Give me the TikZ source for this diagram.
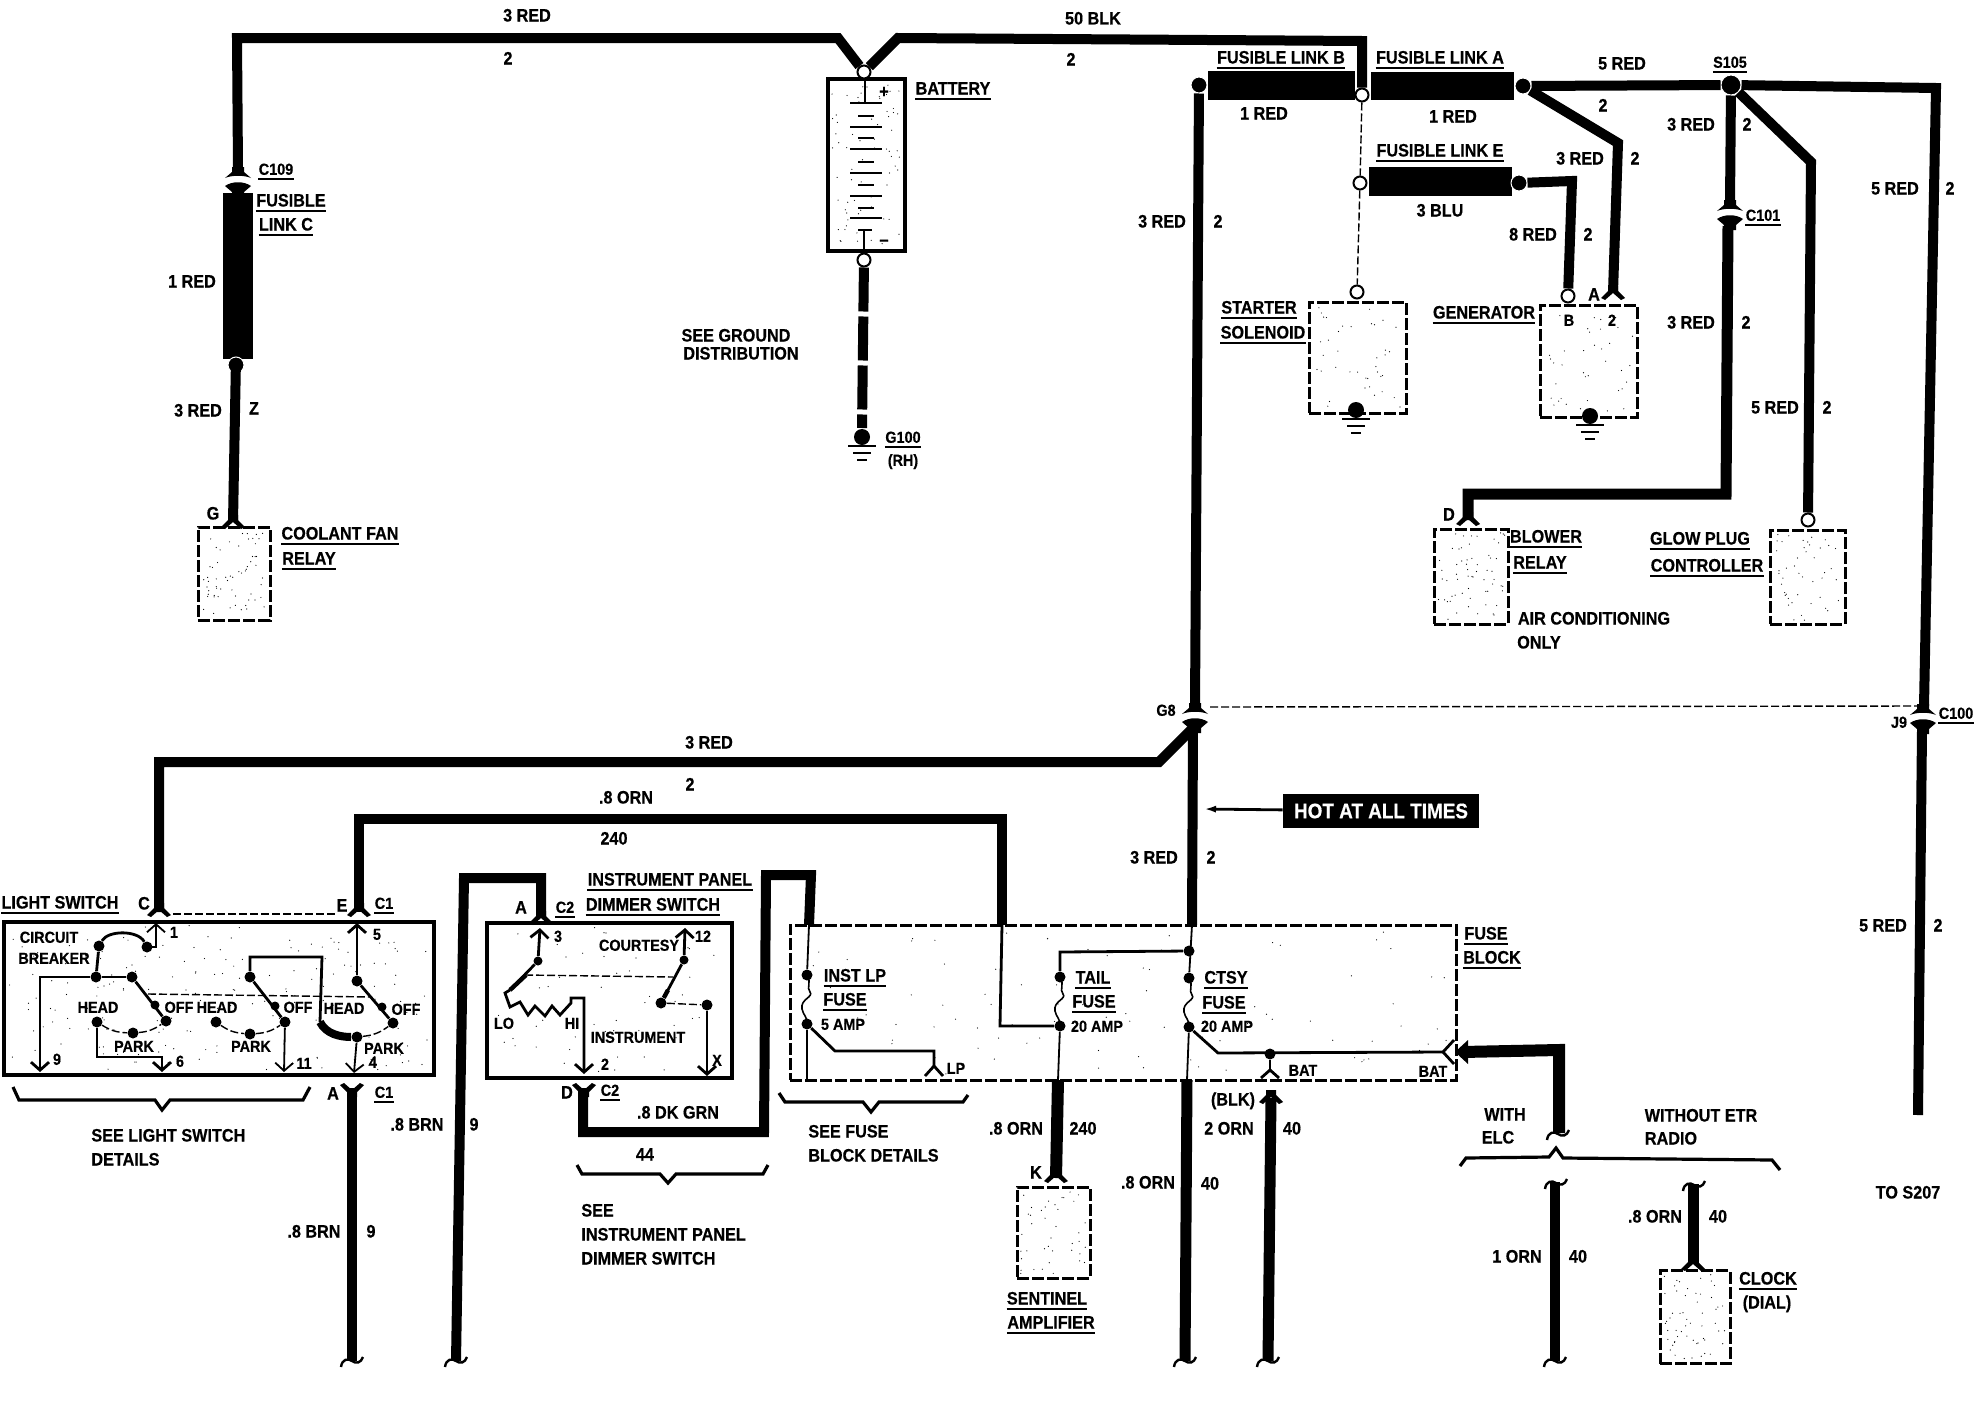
\documentclass[tikz,border=0pt]{standalone}
\usepackage{fontspec}
\setmainfont[FakeStretch=0.9,BoldFeatures={FakeBold=0.5}]{Liberation Sans}
\usetikzlibrary{arrows.meta}

\tikzset{
  fork/.pic={\fill (-5,-7) -- (-5,-2) -- (-12,5) -- (-8,7) -- (0,0) -- (8,7) -- (12,5) -- (5,-2) -- (5,-7) -- cycle;},
  jack/.pic={\fill (-6,-14) -- (-6,-9) -- (-13,-3) .. controls (-6,-6) and (6,-6) .. (13,-3) -- (6,-9) -- (6,-14) -- cycle;
             \fill (-13,5) .. controls (-6,0) and (6,0) .. (13,5) -- (6,11) -- (6,16) -- (-6,16) -- (-6,11) -- cycle;},
  cutend/.pic={\draw[line width=1.2pt] (-11,6) .. controls (-10,-2) and (-4,-3) .. (0,0) .. controls (4,3) and (9,2) .. (11,-4);},
  earth/.pic={\fill (0,0) circle (4pt);
              \draw[line width=1pt] (-14,9) -- (14,9) (-9,16) -- (9,16) (-5,23) -- (5,23);},
  fuse/.pic={\draw[line width=.8pt] (0,0) .. controls (5,8) and (-1,12) .. (3,17) .. controls (7,22) and (-7,24) .. (-5,34) .. controls (-4,40) and (1,42) .. (0,50);},
}
\newcommand{\speckle}[5]{\foreach \k in {1,...,#5}{
  \pgfmathsetmacro{\sx}{#1+(rnd-.5)*#3}
  \pgfmathsetmacro{\sy}{#2+(rnd-.5)*#4}
  \fill (\sx,\sy) circle (.3pt);}}

\begin{document}
\begin{tikzpicture}[x=0.5pt, y=-0.5pt, >={Straight Barb[length=4pt,width=9pt]}]
\tikzstyle{wire} = [line width=5pt]
\tikzstyle{thinw} = [line width=.9pt]
\tikzstyle{medw} = [line width=1.4pt]
\tikzstyle{link} = [rectangle, fill=black, inner sep=0pt]
\tikzstyle{term} = [circle, draw, fill=white, line width=1pt, inner sep=0pt, minimum size=6.5pt]
\tikzstyle{splice} = [circle, fill=black, draw=white, line width=.5pt, inner sep=0pt, minimum size=8pt]
\tikzstyle{dot} = [circle, fill=black, inner sep=0pt, minimum size=5.5pt]
\tikzstyle{dashbox} = [rectangle, draw, line width=1.5pt, dash pattern=on 6pt off 1.5pt, inner sep=0pt]
\tikzstyle{solidbox} = [rectangle, draw, line width=1.9pt, inner sep=0pt]
\tikzstyle{lbl} = [inner xsep=0pt, inner ysep=2pt, font=\fontsize{9}{10}\selectfont\bfseries, text height=6.5pt, text depth=0pt]
\tikzstyle{slbl} = [lbl, font=\fontsize{8}{9}\selectfont\bfseries, text height=5.8pt]
\tikzstyle{ul} = [lbl, append after command={(\tikzlastnode.south west) edge[thinw] (\tikzlastnode.south east)}]
\tikzstyle{sul} = [slbl, append after command={(\tikzlastnode.south west) edge[thinw] (\tikzlastnode.south east)}]
\tikzstyle{linkdash} = [line width=.7pt, dash pattern=on 4pt off 1.5pt]

\useasboundingbox (0,0) rectangle (1976,1408);

% stipple inside the boxes
\pgfmathsetseed{1976}
\speckle{866}{165}{70}{160}{70}
\speckle{234}{573}{65}{85}{60}
\speckle{1357}{357}{90}{100}{40}
\speckle{1588}{361}{90}{105}{40}
\speckle{1471}{576}{68}{88}{60}
\speckle{1807}{577}{68}{88}{45}
\speckle{1053}{1232}{65}{85}{40}
\speckle{1695}{1316}{62}{85}{55}
\speckle{219}{998}{420}{145}{190}
\speckle{610}{1000}{235}{145}{50}
\speckle{1123}{1002}{650}{145}{90}

% boxes
\node[solidbox, minimum width=38.5pt, minimum height=86pt] (battery) at (866.5,165) {};
\node[dashbox, minimum width=36pt, minimum height=46.5pt] (fanrelay) at (234,573.5) {};
\node[dashbox, minimum width=48.5pt, minimum height=55.5pt] (solenoid) at (1357.5,357.5) {};
\node[dashbox, minimum width=48.5pt, minimum height=56pt] (generator) at (1588.5,361) {};
\node[dashbox, minimum width=37pt, minimum height=47.5pt] (blower) at (1471,576.5) {};
\node[dashbox, minimum width=37.5pt, minimum height=47pt] (glowplug) at (1807.5,577) {};
\node[dashbox, minimum width=36.5pt, minimum height=45.5pt] (sentinel) at (1053.5,1232.5) {};
\node[dashbox, minimum width=35pt, minimum height=46.5pt] (clock) at (1695,1317) {};
\node[solidbox, minimum width=215pt, minimum height=76.5pt] (lightsw) at (219,998.5) {};
\node[solidbox, minimum width=122.5pt, minimum height=77.5pt] (dimmer) at (609.5,1000.5) {};
\node[dashbox, minimum width=333pt, minimum height=77.5pt] (fuseblock) at (1123,1002.5) {};

% fusible links
\node[link, minimum width=15pt, minimum height=83pt] (linkc) at (237.5,276) {};
\node[link, minimum width=73.5pt, minimum height=14.5pt] (linkb) at (1281.5,85.5) {};
\node[link, minimum width=71.5pt, minimum height=14pt] (linka) at (1442.5,86) {};
\node[link, minimum width=71.5pt, minimum height=14.5pt] (linke) at (1440.5,181.5) {};

% terminals and splices
\node[term] (batpos) at (864,72) {};
\node[term] (batneg) at (864,260) {};
\node[term] (linkmid) at (1362,95) {};
\node[term] (linketerm) at (1360,183) {};
\node[term] (solterm) at (1357,292) {};
\node[term] (genB) at (1568,296) {};
\node[term] (glowterm) at (1808,520) {};
\node[splice] (linkcdot) at (236,365) {};
\node[splice] (linkbdot) at (1199,85) {};
\node[splice] (linkadot) at (1523,86) {};
\node[splice] (linkedot) at (1519,183) {};
\node[splice, minimum size=10pt] (s105) at (1731,85) {};

\coordinate (c109up) at (238,170);
\coordinate (c109low) at (238,192);
\coordinate (fanG) at (233,522);
\coordinate (g100) at (862,428);
\coordinate (genA) at (1613,292);
\coordinate (c101up) at (1730,204);
\coordinate (c101low) at (1728,226);
\coordinate (blowerD) at (1468,520);
\coordinate (g8up) at (1195,705);
\coordinate (g8low) at (1193,728);
\coordinate (c100up) at (1924,706);
\coordinate (c100low) at (1922,730);
\coordinate (tos207) at (1918,1115);
\coordinate (lsC) at (159,912);
\coordinate (lsE) at (359,912);
\coordinate (lsA) at (352,1088);
\coordinate (lsend) at (352,1361);
\coordinate (dimA) at (541,918);
\coordinate (dimend) at (456,1361);
\coordinate (dimD) at (583,1088);
\coordinate (fbinst) at (809,925);
\coordinate (fbtail) at (1002,925);
\coordinate (fbmain) at (1192,925);
\coordinate (fbkwire) at (1058,1080);
\coordinate (fbctsy) at (1187,1080);
\coordinate (fbbat) at (1462,1052);
\coordinate (sentK) at (1056,1178);
\coordinate (ctsyend) at (1185,1361);
\coordinate (blktop) at (1271,1098);
\coordinate (blkend) at (1268,1361);
\coordinate (elcup) at (1559,1133);
\coordinate (elclow) at (1555,1182);
\coordinate (elcend) at (1555,1361);
\coordinate (clocktop) at (1693,1184);
\coordinate (clocklow) at (1693,1263);

% battery cells
\draw[thinw] (865,79) -- (865,103) (850,103) -- (882,103) (858,116) -- (874,116)
  (850,127) -- (882,127) (858,138) -- (874,138) (850,149) -- (882,149) (858,162) -- (874,162)
  (850,173) -- (882,173) (858,185) -- (874,185) (850,196) -- (882,196) (858,208) -- (874,208)
  (850,218) -- (882,218) (858,230) -- (872,230) (864,230) -- (864,251);
\node[lbl] (batplus) at (884,91) {+};
\node[lbl] (batminus) at (884,239) {--};

% main wires
\draw[wire] (c109up) -- (237,38) -- (838,38) -- (batpos);
\draw[wire] (batpos) -- (898,38) -- (1362,41) -- (linkmid);
\draw[wire] (linkc) -- (fanG);
\draw[wire] (c109low) -- (linkc);
\draw[wire, dash pattern=on 22pt off 2.5pt] (batneg) -- (g100);
\draw[wire] (linkbdot) -- (g8up);
\draw[wire] (linkadot) -- (s105);
\draw[wire] (linkadot) -- (1618,143) -- (genA);
\draw[wire] (linkedot) -- (1572,181) -- (genB);
\draw[wire] (s105) -- (1936,88) -- (c100up);
\draw[wire] (s105) -- (c101up);
\draw[wire] (s105) -- (1811,162) -- (glowterm);
\draw[wire, line width=5.5pt] (c101low) -- (1726,494) -- (1468,494) -- (blowerD);
\draw[wire] (c100low) -- (tos207);
\draw[wire] (g8low) -- (fbmain);
\draw[wire] (g8low) -- (1159,762) -- (159,762) -- (lsC);
\draw[wire] (fbtail) -- (1002,819) -- (359,819) -- (lsE);
\draw[wire] (lsA) -- (lsend);
\draw[wire] (dimend) -- (464,878) -- (541,878) -- (dimA);
\draw[wire] (dimD) -- (583,1132) -- (764,1132) -- (766,875) -- (811,875) -- (fbinst);
\draw[wire, line width=6pt] (fbkwire) -- (sentK);
\draw[wire, line width=5.5pt] (fbctsy) -- (ctsyend);
\draw[wire, line width=5.5pt] (blktop) -- (blkend);
\draw[wire, line width=6pt] (fbbat) -- (1559,1050) -- (elcup);
\draw[wire] (elclow) -- (elcend);
\draw[wire, line width=5.5pt] (clocktop) -- (clocklow);
\draw[linkdash] (linkmid) -- (linketerm);
\draw[linkdash] (linketerm) -- (solterm);
\draw[linkdash] (g8up) ++(15,2) -- (c100up);
\draw[linkdash] (173,914) -- (337,914);

% connectors
\pic at (238,181) {jack};
\pic at (1730,214) {jack};
\pic at (1195,717) {jack};
\pic at (1923,718) {jack};
\pic at (233,522) {fork};
\pic at (1613,293) {fork};
\pic at (1468,519) {fork};
\pic at (159,910) {fork};
\pic at (359,910) {fork};
\pic[yscale=-1] at (352,1090) {fork};
\pic at (541,918) {fork};
\pic[yscale=-1] at (584,1090) {fork};
\pic at (1056,1176) {fork};
\pic at (1693,1264) {fork};
\pic at (1271,1097) {fork};
\pic at (352,1361) {cutend};
\pic at (456,1361) {cutend};
\pic at (1185,1361) {cutend};
\pic at (1268,1361) {cutend};
\pic at (1555,1361) {cutend};
\pic at (1558,1134) {cutend};
\pic at (1556,1183) {cutend};
\pic at (1694,1185) {cutend};
\draw[medw] (1454,1040) -- (1443,1052) -- (1454,1064);
\fill (1468,1040) -- (1455,1052) -- (1468,1064) -- cycle;

% grounds
\pic at (862,437) {earth};
\pic at (1356,410) {earth};
\pic at (1590,416) {earth};

% light switch
\node[dot] (lscb1) at (99,946) {};
\node[dot] (lscb2) at (147,947) {};
\node[dot] (lsfeed) at (96,977) {};
\node[dot] (lsblade1) at (132,977) {};
\node[dot, minimum size=4.5pt] (lsmid1) at (155,1005) {};
\node[dot] (lsoff1) at (166,1021) {};
\node[dot] (lshead1) at (97,1022) {};
\node[dot] (lspark1) at (133,1033) {};
\node[dot] (lsblade2) at (250,977) {};
\node[dot, minimum size=4.5pt] (lsmid2) at (275,1006) {};
\node[dot] (lsoff2) at (285,1022) {};
\node[dot] (lshead2) at (216,1022) {};
\node[dot] (lspark2) at (250,1034) {};
\node[dot] (lsblade3) at (357,981) {};
\node[dot, minimum size=4.5pt] (lsmid3) at (382,1007) {};
\node[dot] (lsoff3) at (393,1023) {};
\node[dot] (lspark3) at (357,1037) {};
\coordinate (lspin1) at (156,923);
\coordinate (lspin5) at (357,923);
\coordinate (lspin9) at (40,1072);
\coordinate (lspin6) at (162,1072);
\coordinate (lspin11) at (284,1072);
\coordinate (lspin4) at (354,1073);
\draw[thinw, ->] (lscb2.center) -- (156,947) -- (lspin1);
\draw[medw] (lscb1) .. controls (108,930) and (138,930) .. (lscb2);
\draw[medw] (lscb1) -- (lsfeed);
\draw[medw, ->] (lsblade1) -- (lsfeed) -- (40,977) -- (lspin9);
\draw[medw] (lsblade1) -- (lsoff1);
\draw[medw] (lsblade2) -- (lsoff2);
\draw[medw] (lsblade3) -- (lsoff3);
\draw[medw, ->] (lshead1) -- (97,1057) -- (162,1057) -- (lspin6);
\draw[medw] (lsblade2) -- (250,957) -- (322,957) -- (320,1022);
\draw[line width=4pt] (320,1022) .. controls (326,1034) and (340,1037) .. (lspark3);
\draw[thinw, ->] (lsoff2) -- (lspin11);
\draw[thinw, ->] (lspark3) -- (lspin4);
\draw[medw, <-] (lspin5) -- (lsblade3);
\draw[linkdash] (lshead1) to[bend right=15] (lspark1);
\draw[linkdash] (lspark1) to[bend right=15] (lsoff1);
\draw[linkdash] (lshead2) to[bend right=15] (lspark2);
\draw[linkdash] (lspark2) to[bend right=15] (lsoff2);
\draw[linkdash] (lspark3) to[bend right=15] (lsoff3);
\draw[linkdash] (148,994) -- (372,997);

% dimmer switch
\node[dot, minimum size=4.5pt] (dimhi) at (538,961) {};
\node[dot, minimum size=4.5pt] (dimcy) at (684,960) {};
\node[dot] (dimoff) at (661,1003) {};
\node[dot] (dimx) at (707,1005) {};
\coordinate (dimpin3) at (540,928);
\coordinate (dimpin12) at (685,928);
\coordinate (dimpin2) at (584,1074);
\coordinate (dimpinx) at (707,1076);
\draw[medw, ->] (dimhi) -- (dimpin3);
\draw[medw, ->] (dimcy) -- (dimpin12);
\draw[medw] (dimhi) -- (510,990);
\draw[line width=2.2pt] (526,975) -- (510,990);
\draw[medw] (dimcy) -- (dimoff);
\draw[line width=2.2pt] (668,990) -- (dimoff);
\draw[medw, ->] (510,990) -- (505,993) -- (510,1007) -- (520,1002) -- (528,1015) -- (535,1006) -- (545,1016) -- (552,1006) -- (560,1015) -- (571,1003) -- (571,998) -- (584,998) -- (dimpin2);
\draw[medw, ->] (dimx) -- (dimpinx);
\draw[linkdash] (dimoff) -- (dimx);
\draw[linkdash] (525,975) -- (673,977);

% fuse block
\node[dot] (instup) at (807,975) {};
\node[dot] (instlow) at (807,1024) {};
\node[dot] (tailup) at (1060,977) {};
\node[dot] (taillow) at (1060,1026) {};
\node[dot] (ctsyup) at (1189,978) {};
\node[dot] (ctsylow) at (1189,1027) {};
\node[dot] (fbtap) at (1189,951) {};
\node[dot] (batdot) at (1270,1054) {};
\coordinate (lpin) at (934,1066);
\coordinate (batpin) at (1270,1070);
\draw[thinw] (fbinst) -- (instup);
\draw[thinw] (instlow) -- (807,1080);
\draw[medw] (instlow) -- (835,1051) -- (934,1051) -- (lpin);
\draw[medw] (925,1076) -- (lpin) -- (943,1076);
\draw[medw] (fbtail) -- (1000,1026) -- (taillow);
\draw[thinw] (taillow) -- (fbkwire);
\draw[medw] (tailup) -- (1060,952) -- (fbtap);
\draw[thinw] (fbmain) -- (ctsyup);
\draw[thinw] (ctsylow) -- (fbctsy);
\draw[medw] (ctsylow) -- (1218,1053) -- (1443,1052);
\draw[thinw] (batdot) -- (batpin);
\draw[medw] (1261,1078) -- (batpin) -- (1279,1078);
\pic at (807,975) {fuse};
\pic at (1060,977) {fuse};
\pic at (1189,978) {fuse};

% braces
\draw[line width=1.6pt] (13,1087) -- (19,1100) -- (155,1100) -- (162,1110) -- (170,1100) -- (303,1100) -- (310,1087);
\draw[line width=1.6pt] (577,1165) -- (582,1174) -- (660,1174) -- (668,1183) -- (676,1174) -- (763,1174) -- (768,1165);
\draw[line width=1.6pt] (779,1093) -- (785,1102) -- (863,1102) -- (871,1112) -- (879,1102) -- (963,1102) -- (968,1095);
\draw[line width=1.6pt] (1460,1166) -- (1466,1158) -- (1549,1157) -- (1556,1148) -- (1563,1158) -- (1772,1160) -- (1780,1170);

% hot at all times
\node[rectangle, fill=black, text=white, minimum width=98pt, minimum height=17pt, inner sep=0pt, font=\fontsize{10.5}{12}\selectfont\bfseries] (hot) at (1381,811) {HOT AT ALL TIMES};
\coordinate (hottip) at (1204,809);
\draw[medw, -{Latex[length=6pt,width=3.5pt]}] (hot) -- (hottip);

% wire labels
\node[lbl] (t3redtop) at (527,15) {3 RED};
\node[lbl] (t2top) at (508,58) {2};
\node[lbl] (t50blk) at (1093,18) {50 BLK};
\node[lbl] (t2blk) at (1071,59) {2};
\node[lbl] (t1redc) at (192,281) {1 RED};
\node[lbl] (t3redc) at (198,410) {3 RED};
\node[lbl] (tzc) at (254,408) {Z};
\node[lbl] (t1redb) at (1264,113) {1 RED};
\node[lbl] (t1reda) at (1453,116) {1 RED};
\node[lbl] (t3blu) at (1440,210) {3 BLU};
\node[lbl] (t5red) at (1622,63) {5 RED};
\node[lbl] (t2five) at (1603,105) {2};
\node[lbl] (t3redg) at (1580,158) {3 RED};
\node[lbl] (t2g) at (1635,158) {2};
\node[lbl] (t8red) at (1533,234) {8 RED};
\node[lbl] (t28) at (1588,234) {2};
\node[lbl] (t3reds) at (1691,124) {3 RED};
\node[lbl] (t2s) at (1747,124) {2};
\node[lbl] (t3redb) at (1691,322) {3 RED};
\node[lbl] (t2b) at (1746,322) {2};
\node[lbl] (t5redg) at (1775,407) {5 RED};
\node[lbl] (t2gl) at (1827,407) {2};
\node[lbl] (t5redr) at (1895,188) {5 RED};
\node[lbl] (t2r) at (1950,188) {2};
\node[lbl] (t3redl) at (1162,221) {3 RED};
\node[lbl] (t2l) at (1218,221) {2};
\node[lbl] (t3redm) at (709,742) {3 RED};
\node[lbl] (t2m) at (690,784) {2};
\node[lbl] (t8orn) at (626,797) {.8 ORN};
\node[lbl] (t240) at (614,838) {240};
\node[lbl] (t3redf) at (1154,857) {3 RED};
\node[lbl] (t2f) at (1211,857) {2};
\node[lbl] (t5redj) at (1883,925) {5 RED};
\node[lbl] (t2j) at (1938,925) {2};
\node[lbl] (tbrn) at (417,1124) {.8 BRN};
\node[lbl] (t9) at (474,1124) {9};
\node[lbl] (tbrnb) at (314,1231) {.8 BRN};
\node[lbl] (t9b) at (371,1231) {9};
\node[lbl] (tdkgrn) at (678,1112) {.8 DK GRN};
\node[lbl] (t44) at (645,1154) {44};
\node[lbl] (torns) at (1016,1128) {.8 ORN};
\node[lbl] (t240s) at (1083,1128) {240};
\node[lbl] (tornc) at (1148,1182) {.8 ORN};
\node[lbl] (t40c) at (1210,1183) {40};
\node[lbl] (tblk) at (1233,1099) {(BLK)};
\node[lbl] (t2orn) at (1229,1128) {2 ORN};
\node[lbl] (t40b) at (1292,1128) {40};
\node[lbl] (t1orn) at (1517,1256) {1 ORN};
\node[lbl] (t40e) at (1578,1256) {40};
\node[lbl] (tornd) at (1655,1216) {.8 ORN};
\node[lbl] (t40d) at (1718,1216) {40};

% component labels
\node[sul] (c109) at (276,169) {C109};
\node[ul] (fusc) at (291,200) {FUSIBLE};
\node[ul] (linkctxt) at (286,224) {LINK C};
\node[lbl] (pinG) at (213,513) {G};
\node[ul] (fantxt) at (340,533) {COOLANT FAN};
\node[ul] (relaytxt) at (309,558) {RELAY};
\node[ul] (battxt) at (953,88) {BATTERY};
\node[lbl] (seeg) at (736,335) {SEE GROUND};
\node[lbl] (dist) at (741,353) {DISTRIBUTION};
\node[sul] (g100txt) at (903,437) {G100};
\node[slbl] (rhtxt) at (903,460) {(RH)};
\node[ul] (fusbtxt) at (1281,57) {FUSIBLE LINK B};
\node[ul] (fusatxt) at (1440,57) {FUSIBLE LINK A};
\node[ul] (fusetxt) at (1440,150) {FUSIBLE LINK E};
\node[ul] (startxt) at (1259,307) {STARTER};
\node[ul] (soltxt) at (1263,332) {SOLENOID};
\node[ul] (gentxt) at (1484,312) {GENERATOR};
\node[slbl] (genBtxt) at (1569,320) {B};
\node[slbl] (gen2txt) at (1612,320) {2};
\node[lbl] (genAtxt) at (1594,294) {A};
\node[sul] (s105txt) at (1730,62) {S105};
\node[sul] (c101txt) at (1763,215) {C101};
\node[lbl] (pinD) at (1449,514) {D};
\node[ul] (blowtxt) at (1546,536) {BLOWER};
\node[ul] (blrelay) at (1540,562) {RELAY};
\node[lbl] (actxt) at (1594,618) {AIR CONDITIONING};
\node[lbl] (onlytxt) at (1539,642) {ONLY};
\node[ul] (glowtxt) at (1700,538) {GLOW PLUG};
\node[ul] (ctltxt) at (1707,565) {CONTROLLER};
\node[slbl] (g8txt) at (1166,710) {G8};
\node[slbl] (j9txt) at (1899,722) {J9};
\node[sul] (c100txt) at (1956,713) {C100};
\node[ul] (lstxt) at (60,902) {LIGHT SWITCH};
\node[lbl] (pinC) at (144,903) {C};
\node[lbl] (pinE) at (342,905) {E};
\node[sul] (c1a) at (384,903) {C1};
\node[lbl] (pinA) at (333,1093) {A};
\node[sul] (c1b) at (384,1092) {C1};
\node[slbl] (n1) at (174,932) {1};
\node[slbl] (n5) at (377,934) {5};
\node[slbl] (n9) at (57,1059) {9};
\node[slbl] (n6) at (180,1061) {6};
\node[slbl] (n11) at (304,1063) {11};
\node[slbl] (n4) at (373,1062) {4};
\node[slbl] (cirtxt) at (49,937) {CIRCUIT};
\node[slbl] (brktxt) at (54,958) {BREAKER};
\node[slbl] (head1) at (98,1007) {HEAD};
\node[slbl] (off1) at (179,1007) {OFF};
\node[slbl] (head2) at (217,1007) {HEAD};
\node[slbl] (off2) at (298,1007) {OFF};
\node[slbl] (head3) at (344,1008) {HEAD};
\node[slbl] (off3) at (406,1009) {OFF};
\node[slbl] (park1) at (134,1046) {PARK};
\node[slbl] (park2) at (251,1046) {PARK};
\node[slbl] (park3) at (384,1048) {PARK};
\node[lbl, anchor=west] (seels) at (91,1135) {SEE LIGHT SWITCH};
\node[lbl, anchor=west] (lsdet) at (91,1159) {DETAILS};
\node[ul] (iptxt) at (670,879) {INSTRUMENT PANEL};
\node[ul] (dimtxt) at (653,904) {DIMMER SWITCH};
\node[lbl] (pinAd) at (521,907) {A};
\node[sul] (c2a) at (565,907) {C2};
\node[lbl] (pinDd) at (567,1092) {D};
\node[sul] (c2b) at (610,1090) {C2};
\node[slbl] (n3) at (558,936) {3};
\node[slbl] (n12) at (703,936) {12};
\node[slbl] (n2) at (605,1064) {2};
\node[slbl] (nx) at (717,1060) {X};
\node[slbl] (courtxt) at (639,945) {COURTESY};
\node[slbl] (lotxt) at (504,1023) {LO};
\node[slbl] (hitxt) at (572,1023) {HI};
\node[slbl] (insttxt) at (638,1037) {INSTRUMENT};
\node[lbl, anchor=west] (seeip) at (581,1210) {SEE};
\node[lbl, anchor=west] (ipdet) at (581,1234) {INSTRUMENT PANEL};
\node[lbl, anchor=west] (dimdet) at (581,1258) {DIMMER SWITCH};
\node[ul] (fbtxt) at (1486,933) {FUSE};
\node[ul] (blocktxt) at (1492,957) {BLOCK};
\node[ul] (instlp) at (855,975) {INST LP};
\node[ul] (instfuse) at (845,999) {FUSE};
\node[slbl] (amp5) at (843,1024) {5 AMP};
\node[slbl] (lptxt) at (956,1068) {LP};
\node[ul] (tailtxt) at (1093,977) {TAIL};
\node[ul] (tailfuse) at (1094,1001) {FUSE};
\node[slbl] (amp20a) at (1097,1026) {20 AMP};
\node[ul] (ctsytxt) at (1226,977) {CTSY};
\node[ul] (ctsyfuse) at (1224,1002) {FUSE};
\node[slbl] (amp20b) at (1227,1026) {20 AMP};
\node[slbl] (bat1) at (1303,1070) {BAT};
\node[slbl] (bat2) at (1433,1071) {BAT};
\node[lbl, anchor=west] (seefuse) at (808,1131) {SEE FUSE};
\node[lbl, anchor=west] (fusedet) at (808,1155) {BLOCK DETAILS};
\node[lbl] (pinK) at (1036,1172) {K};
\node[ul] (senttxt) at (1047,1298) {SENTINEL};
\node[ul] (amptxt) at (1051,1322) {AMPLIFIER};
\node[lbl] (withtxt) at (1505,1114) {WITH};
\node[lbl] (elctxt) at (1498,1137) {ELC};
\node[lbl] (woetr) at (1701,1115) {WITHOUT ETR};
\node[lbl] (radiotxt) at (1671,1138) {RADIO};
\node[lbl] (tos207txt) at (1908,1192) {TO S207};
\node[ul] (clocktxt) at (1768,1278) {CLOCK};
\node[lbl] (dialtxt) at (1767,1302) {(DIAL)};
\end{tikzpicture}
\end{document}
